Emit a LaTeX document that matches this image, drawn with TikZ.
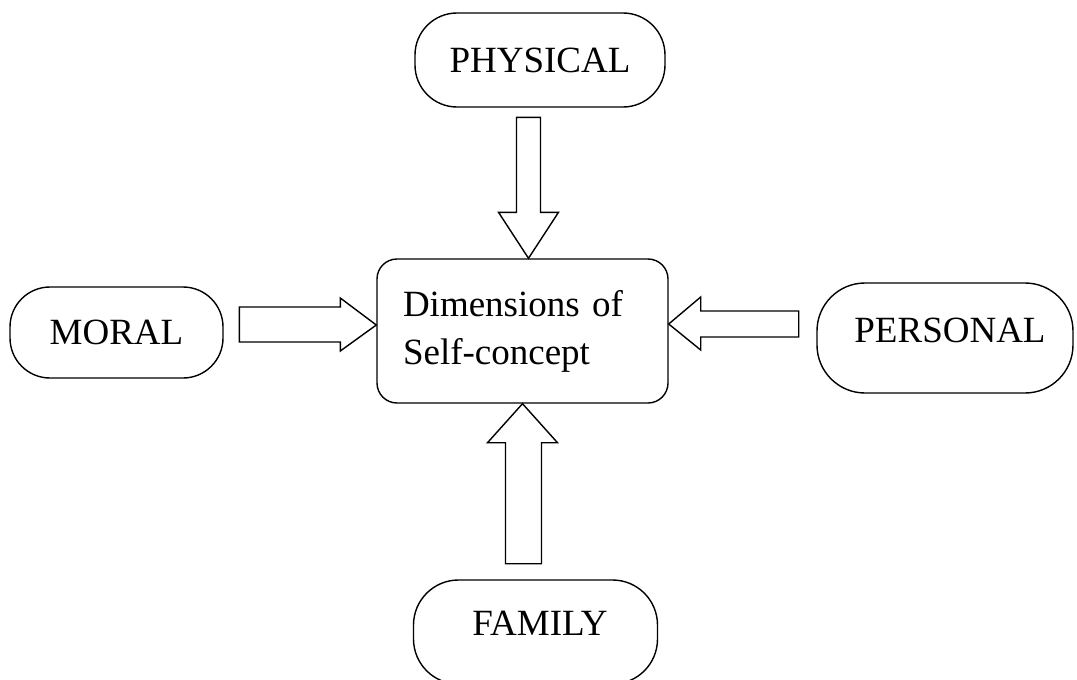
\documentclass[tikz,border=0pt]{standalone}
\usepackage{fontspec}
\setmainfont{Liberation Serif}
\usetikzlibrary{calc}
\begin{document}
\begin{tikzpicture}[x=1pt,y=-1pt,
  lbl/.style={font=\fontsize{37}{48}\selectfont, inner sep=0pt},
  pill/.style={draw, line width=1.4pt, inner sep=0pt, anchor=center},
  blockarrow/.style={draw, line width=1.4pt, line join=miter}]
\path[use as bounding box, clip] (0,0) rectangle (1077,680);
% boxes
\node[pill, minimum width=250pt, minimum height=94pt, rounded corners=42pt, lbl] (phys) at (540,60) {PHYSICAL};
\node[pill, minimum width=213pt, minimum height=91pt, rounded corners=40pt, lbl] (moral) at (116.5,332.5) {MORAL};
\node[pill, minimum width=256pt, minimum height=110pt, rounded corners=48pt] (pers) at (945,338) {};
\node[lbl] (perstxt) at (950,330) {PERSONAL};
\node[pill, minimum width=244pt, minimum height=104pt, rounded corners=45pt] (fam) at (535.5,632) {};
\node[lbl] (famtxt) at (540,623) {FAMILY};
\node[draw, line width=1.4pt, rounded corners=20pt, minimum height=144pt, text width=239pt,
  inner xsep=26pt, inner ysep=0pt, align=left, font=\fontsize{37}{48}\selectfont] (c) at (522.5,331)
  {Dimensions of\\Self-concept};
% block arrows
\draw[blockarrow] ($(c.north)+(6,0)$) -- ++(-30,-46) -- ++(18,0) -- ++(0,-95) -- ++(24,0) -- ++(0,95) -- ++(18,0) -- cycle;
\draw[blockarrow] (c.south) -- ++(-35,39) -- ++(18,0) -- ++(0,121) -- ++(36,0) -- ++(0,-121) -- ++(16,0) -- cycle;
\draw[blockarrow] ($(c.west)+(0,-6)$) -- ++(-36,-27) -- ++(0,9) -- ++(-101,0) -- ++(0,35) -- ++(101,0) -- ++(0,9) -- cycle;
\draw[blockarrow] ($(c.east)+(0,-7)$) -- ++(32,-27) -- ++(0,14) -- ++(98,0) -- ++(0,26) -- ++(-98,0) -- ++(0,13) -- cycle;
\end{tikzpicture}
\end{document}
